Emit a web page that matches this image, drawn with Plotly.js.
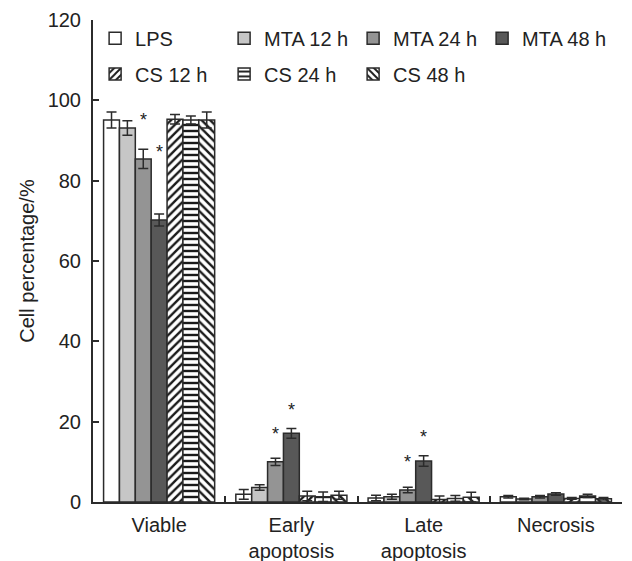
<!DOCTYPE html>
<html><head><meta charset="utf-8">
<script src="https://cdn.plot.ly/plotly-3.0.1.min.js"></script>
<style>html,body{margin:0;padding:0;background:#fff}</style>
</head><body><div id="chart" style="width:632px;height:561px"></div>
<script>
// ---- data ----
const categories = ["Viable", "Early<br>apoptosis", "Late<br>apoptosis", "Necrosis"];
const seriesNames = ["LPS", "MTA 12 h", "MTA 24 h", "MTA 48 h", "CS 12 h", "CS 24 h", "CS 48 h"];
const lps      = [95.1, 1.9, 1.0, 1.3];
const lpsErr   = [2.0, 1.2, 0.7, 0.3];
const mta12    = [93.1, 3.6, 1.3, 0.75];
const mta12Err = [1.8, 0.7, 0.6, 0.2];
const mta24    = [85.4, 10.0, 3.0, 1.3];
const mta24Err = [2.4, 0.9, 0.7, 0.3];
const mta48    = [70.2, 17.1, 10.2, 2.0];
const mta48Err = [1.5, 1.2, 1.3, 0.3];
const cs12     = [95.3, 1.5, 0.6, 0.9];
const cs12Err  = [1.2, 1.2, 0.9, 0.2];
const cs24     = [95.1, 1.3, 0.9, 1.5];
const cs24Err  = [1.0, 1.2, 0.7, 0.4];
const cs48     = [95.1, 1.7, 1.2, 0.8];
const cs48Err  = [2.0, 1.0, 1.2, 0.3];
// significance marks: category index, series index, y position
const starCat    = [0, 0, 1, 1, 2, 2];
const starSeries = [2, 3, 2, 3, 2, 3];
const starY      = [95.1, 87.1, 16.9, 22.9, 10.0, 16.2];

// ---- styles ----
const values = [lps, mta12, mta24, mta48, cs12, cs24, cs48];
const errs = [lpsErr, mta12Err, mta24Err, mta48Err, cs12Err, cs24Err, cs48Err];
const fills = ["#ffffff", "#c6c6c6", "#949494", "#585858", "#ffffff", "#ffffff", "#ffffff"];
const patterns = ["", "", "", "", "/", "-", "\\"];
const legendOf = ["legend", "legend", "legend", "legend", "legend2", "legend2", "legend2"];
const edge = "#2b2b2b";
const font = "Liberation Sans, Arial, sans-serif";
const fs = 20;

const traces = seriesNames.map((name, i) => ({
  type: "bar",
  name: name,
  x: categories,
  y: values[i],
  legend: legendOf[i],
  marker: {
    color: fills[i],
    line: {color: edge, width: 1.5},
    pattern: patterns[i] ? {shape: patterns[i], fgcolor: "#1a1a1a", bgcolor: "#ffffff", size: 6, solidity: 0.4, fillmode: "replace"} : undefined
  },
  error_y: {type: "data", array: errs[i], visible: true, color: edge, thickness: 1.5, width: 5}
}));

const bargap = 0.16;
const nSeries = seriesNames.length;
const barW = (1 - bargap) / nSeries;
const annotations = starCat.map((c, k) => ({
  x: c - (1 - bargap) / 2 + barW * (starSeries[k] + 0.5),
  y: starY[k],
  xref: "x", yref: "y",
  text: "*",
  showarrow: false,
  font: {family: font, size: 18, color: "#222"},
  yanchor: "middle"
}));

const legendBase = {
  orientation: "h", xanchor: "left", yanchor: "middle",
  entrywidth: 84, itemwidth: 30, traceorder: "normal",
  font: {family: font, size: fs, color: "#222"}, bgcolor: "rgba(0,0,0,0)"
};

const layout = {
  width: 632, height: 561,
  margin: {l: 93, r: 10, t: 20, b: 59},
  paper_bgcolor: "#fff", plot_bgcolor: "#fff",
  font: {family: font, size: fs, color: "#222"},
  barmode: "group",
  bargap: bargap,
  bargroupgap: 0,
  xaxis: {
    type: "category",
    showline: true, linecolor: edge, linewidth: 2,
    ticks: "inside", tickson: "boundaries", ticklen: 6, tickcolor: edge, tickwidth: 2,
    ticklabelstandoff: 4,
    showgrid: false, zeroline: false,
    tickfont: {family: font, size: fs, color: "#222"}
  },
  yaxis: {
    range: [0, 120], dtick: 20,
    showline: true, linecolor: edge, linewidth: 2,
    ticks: "inside", ticklen: 6, tickcolor: edge, tickwidth: 2,
    ticklabelstandoff: 6,
    showgrid: false, zeroline: false,
    tickfont: {family: font, size: fs, color: "#222"},
    title: {text: "Cell percentage/%", font: {family: font, size: fs, color: "#222"}, standoff: 8}
  },
  legend: Object.assign({}, legendBase, {x: 0.004, y: 0.962}),
  legend2: Object.assign({}, legendBase, {x: 0.004, y: 0.888}),
  annotations: annotations,
  showlegend: true
};

Plotly.newPlot("chart", traces, layout, {displayModeBar: false, staticPlot: true});
</script>
</body></html>
